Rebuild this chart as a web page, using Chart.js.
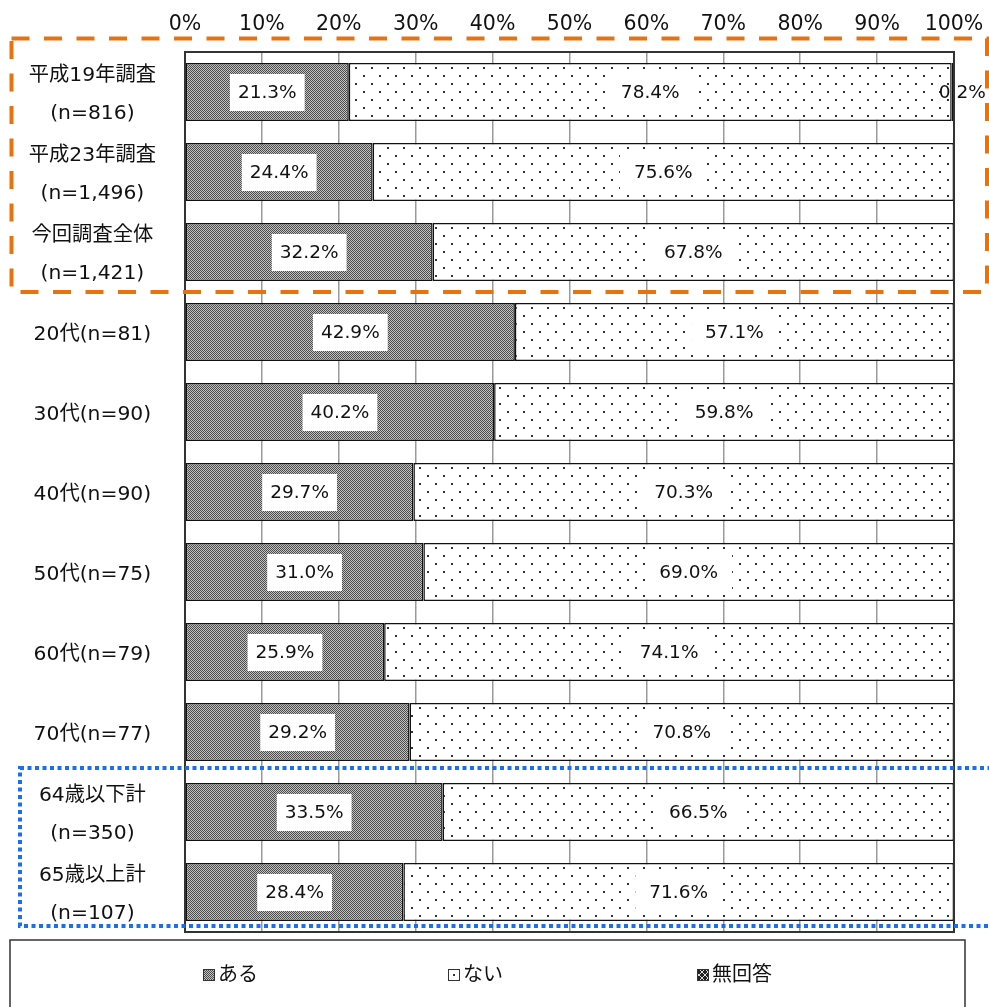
<!DOCTYPE html>
<html><head><meta charset="utf-8">
<script src="https://cdn.jsdelivr.net/npm/chart.js@4.4.1/dist/chart.umd.min.js"></script>
<style>html,body{margin:0;padding:0;background:#fff}#wrap{width:989px;height:1007px;position:relative}</style>
</head><body><div id="wrap"><canvas id="c"></canvas></div>
<script>
const categories = [["平成19年調査","(n=816)"],["平成23年調査","(n=1,496)"],["今回調査全体","(n=1,421)"],"20代(n=81)","30代(n=90)","40代(n=90)","50代(n=75)","60代(n=79)","70代(n=77)",["64歳以下計","(n=350)"],["65歳以上計","(n=107)"]];
const seriesNames = ["ある","ない","無回答"];
const aruValues = [21.3,24.4,32.2,42.9,40.2,29.7,31.0,25.9,29.2,33.5,28.4];
const naiValues = [78.4,75.6,67.8,57.1,59.8,70.3,69.0,74.1,70.8,66.5,71.6];
const mukaitouValues = [0.2,0,0,0,0,0,0,0,0,0,0];
const xMin = 0, xMax = 100, xStep = 10;

const FONT = '"DejaVu Sans","Noto Sans CJK JP",sans-serif';
const canvas = document.getElementById('c');
const mctx = canvas.getContext('2d');

function makePattern(w,h,draw){
  const c=document.createElement('canvas');c.width=w;c.height=h;
  const x=c.getContext('2d');draw(x);return mctx.createPattern(c,'repeat');
}
const darkPat = makePattern(2,2,x=>{x.fillStyle='#c4c4c4';x.fillRect(0,0,2,2);x.fillStyle='#4a4a4a';x.fillRect(0,0,1,1);x.fillRect(1,1,1,1);});
const dotPat = makePattern(16,16,x=>{x.fillStyle='#fff';x.fillRect(0,0,16,16);x.fillStyle='#333';x.fillRect(3,3,2,2);x.fillRect(11,11,2,2);});
const crossPat = makePattern(6,6,x=>{x.fillStyle='#222';x.fillRect(0,0,6,6);x.fillStyle='#ddd';for(let i=0;i<6;i++){x.fillRect(i,i,1,1);x.fillRect(5-i,i,1,1);}});
const patterns=[darkPat,dotPat,crossPat];

function zeroPad(s){s.paddingTop=0;s.paddingBottom=0;s.paddingLeft=0;s.paddingRight=0;}

const overlay = {
  id:'overlay',
  afterDatasetsDraw(chart){
    const {ctx, chartArea:a} = chart;
    ctx.save();
    ctx.font = '18.5px '+FONT;
    ctx.textAlign='center'; ctx.textBaseline='middle';
    chart.data.datasets.forEach((ds,i)=>{
      const meta=chart.getDatasetMeta(i);
      meta.data.forEach((el,j)=>{
        const v=ds.data[j]; if(!v) return;
        const txt=v.toFixed(1)+'%';
        const cx=(el.x+el.base)/2, cy=el.y;
        if(i===2){ ctx.fillStyle='#111'; ctx.fillText(txt, el.x+9, cy+1); return; }
        const tw=ctx.measureText(txt).width; const pad = i===0?8:14;
        ctx.fillStyle='#fff'; ctx.fillRect(cx-tw/2-pad, cy-18, tw+2*pad, 37);
        ctx.fillStyle='#111'; ctx.fillText(txt,cx,cy+1);
      });
    });
    ctx.strokeStyle='#333'; ctx.lineWidth=2;
    ctx.strokeRect(a.left,a.top,a.right-a.left,a.bottom-a.top);
    ctx.restore();
  },
  afterDraw(chart){
    const ctx=chart.ctx;
    ctx.save();
    ctx.strokeStyle='#e8720c'; ctx.lineWidth=4; ctx.setLineDash([18,14.5]);
    ctx.strokeRect(11.5,38.5,975.5,253.5);
    ctx.strokeStyle='#1a6ff0'; ctx.lineWidth=4; ctx.setLineDash([4,3.5]);
    ctx.strokeRect(20,768,990,158);
    ctx.setLineDash([]);
    ctx.strokeStyle='#333'; ctx.lineWidth=1.5;
    ctx.strokeRect(10,940,955,80);
    const items=[{x:203,t:seriesNames[0]},{x:448,t:seriesNames[1]},{x:697,t:seriesNames[2]}];
    ctx.font='20px '+FONT; ctx.textBaseline='middle'; ctx.textAlign='left';
    items.forEach((it,k)=>{
      const y=975;
      if(k===1){ctx.fillStyle='#fff';ctx.fillRect(it.x,y-6,12,12);ctx.fillStyle='#333';ctx.fillRect(it.x+5,y-1,2,2);}
      else {ctx.fillStyle=patterns[k];ctx.fillRect(it.x,y-6,12,12);}
      ctx.strokeStyle='#333';ctx.lineWidth=1;ctx.strokeRect(it.x+0.5,y-5.5,11,11);
      ctx.fillStyle='#111';ctx.fillText(it.t,it.x+15,y+1);
    });
    ctx.restore();
  }
};

new Chart(canvas,{
  type:'bar',
  data:{labels:categories,datasets:[
    {label:seriesNames[0],data:aruValues,backgroundColor:darkPat,borderColor:'#111',borderWidth:1.5,borderSkipped:false},
    {label:seriesNames[1],data:naiValues,backgroundColor:dotPat,borderColor:'#111',borderWidth:1.5,borderSkipped:false},
    {label:seriesNames[2],data:mukaitouValues,backgroundColor:crossPat,borderColor:'#111',borderWidth:1.5,borderSkipped:false}
  ]},
  options:{
    indexAxis:'y',responsive:true,maintainAspectRatio:false,animation:false,devicePixelRatio:1,
    barPercentage:0.725,categoryPercentage:1,
    layout:{padding:{left:0,top:0,right:35,bottom:75}},
    plugins:{legend:{display:false},tooltip:{enabled:false}},
    scales:{
      x:{position:'top',stacked:true,min:xMin,max:xMax,
        afterFit(s){s.height=52;zeroPad(s);},
        ticks:{stepSize:xStep,padding:15,color:'#111',font:{size:20.5,family:FONT},callback:v=>v+'%'},
        grid:{color:'#9a9a9a',lineWidth:1.5,drawTicks:false},
        border:{display:true,color:'#333',width:2}},
      y:{stacked:true,
        afterFit(s){s.width=185;zeroPad(s);},
        ticks:{padding:29,labelOffset:3,crossAlign:'center',color:'#111',font:{size:20.3,family:FONT,lineHeight:1.85}},
        grid:{display:false,drawTicks:false},
        border:{display:true,color:'#333',width:2}}
    }
  },
  plugins:[overlay]
});
</script></body></html>
